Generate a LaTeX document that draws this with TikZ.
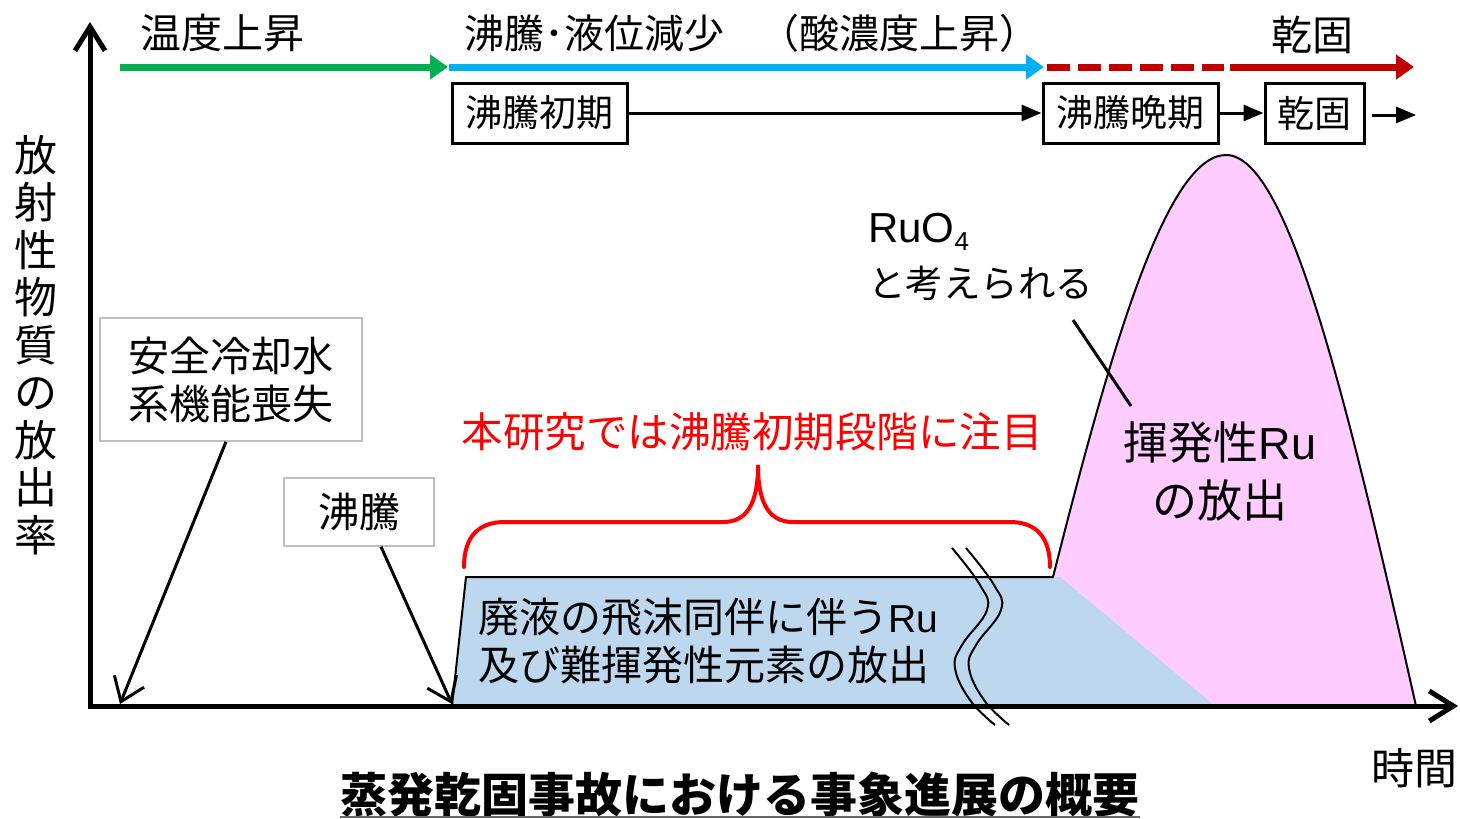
\documentclass[tikz,border=0pt]{standalone}
\usepackage{fontspec}
\setmainfont{Noto Sans CJK JP}
\newfontfamily\latinf{Liberation Sans}
\usetikzlibrary{arrows.meta}
\definecolor{cgreen}{HTML}{00B050}
\definecolor{cblue}{HTML}{00B0F0}
\definecolor{cred}{HTML}{C00000}
\definecolor{cpink}{HTML}{FFCCFF}
\definecolor{cfill}{HTML}{BDD7EE}
\definecolor{cgray}{HTML}{BFBFBF}
\newcommand{\fs}[2]{\fontsize{#1}{#2}\selectfont}
\begin{document}
\begin{tikzpicture}[x=1pt,y=-1pt,
  phase/.style={line width=7pt,-{Triangle[length=18pt,width=24pt]}},
  stagebox/.style={draw,line width=3pt,minimum height=60pt,inner sep=0pt,font=\fs{37}{40}},
  stagearrow/.style={line width=3pt,-{Triangle[length=20pt,width=16pt]}},
  notebox/.style={draw=cgray,line width=1.5pt,inner sep=0pt,align=center,font=\fs{41}{48}},
  lbl/.style={inner sep=0pt,align=center},
  leader/.style={line width=3pt,-{Straight Barb[length=22pt,width=32pt,line width=3pt]}},
  axis/.style={line width=5pt,line join=miter,{Straight Barb[length=24pt,width=30pt,line width=5pt]}-{Straight Barb[length=24pt,width=30pt,line width=5pt]}}
]
\useasboundingbox (0,0) rectangle (1460,819);

% ---- coordinates
\coordinate (origin) at (90,706);
\coordinate (ytip) at (90,22);
\coordinate (xtip) at (1458,706);

% ---- release areas
\fill[cpink] (1053,577) .. controls (1108,360) and (1165,155) .. (1226,155)
  .. controls (1287,155) and (1345,390) .. (1416,706) -- (1053,706) -- cycle;
\fill[cfill] (452,706) -- (466,577) -- (1060,577) -- (1215,706) -- cycle;
\draw[line width=2pt,line join=round] (452,706) -- (466,577) -- (1053,577)
  .. controls (1108,360) and (1165,155) .. (1226,155)
  .. controls (1287,155) and (1345,390) .. (1416,706);

% ---- break marks
\draw[line width=2pt] plot[smooth,tension=0.7] coordinates {(952,548) (980,585) (987,610) (962,645) (955,668) (970,700) (995,725)};
\draw[line width=2pt] plot[smooth,tension=0.7] coordinates {(966,548) (994,585) (1001,610) (976,645) (969,668) (984,700) (1009,725)};

% ---- axes
\draw[axis] (ytip) -- (origin) -- (xtip);

% ---- top phase arrows
\coordinate (g0) at (120,67);
\coordinate (g1) at (448,67);
\coordinate (b0) at (449,67);
\coordinate (b1) at (1044,67);
\coordinate (r0) at (1047,67);
\coordinate (r1) at (1224,67);
\coordinate (r2) at (1230,67);
\coordinate (r3) at (1414,67);
\draw[phase,cgreen] (g0) -- (g1);
\draw[phase,cblue] (b0) -- (b1);
\draw[line width=7pt,cred,dash pattern=on 23pt off 8pt] (r0) -- (r1);
\draw[phase,cred] (r2) -- (r3);

\node[lbl,font=\fs{41}{48}] (tlab1) at (222,33) {温度上昇};
\node[lbl,font=\fs{40}{48}] (tlab2) at (752,33) {沸騰･液位減少\hspace{0.875em}（酸濃度上昇）};
\node[lbl,font=\fs{41}{48}] (tlab3) at (1312,35) {乾固};

% ---- stage boxes
\node[stagebox,minimum width=175pt] (s1) at (539.5,113) {沸騰初期};
\node[stagebox,minimum width=175pt] (s2) at (1130.5,113) {沸騰晩期};
\node[stagebox,minimum width=99pt] (s3) at (1314.5,113) {乾固};
\coordinate (s4) at (1416,115);
\draw[stagearrow] (s1.east) -- (s2.west);
\draw[stagearrow] (s2.east) -- (s3.west);
\draw[stagearrow] ([xshift=6pt]s3.east |- s4) -- (s4);

% ---- y label
\node[lbl,font=\fs{43}{47.5}] (ylab) at (36,345) {放\\射\\性\\物\\質\\の\\放\\出\\率};

% ---- event boxes
\node[notebox,minimum width=262pt,minimum height=123pt] (safe) at (231,379.5) {安全冷却水\\系機能喪失};
\node[notebox,minimum width=150pt,minimum height=68pt] (boil) at (359,512) {沸騰};
\coordinate (t1) at (120,704);
\coordinate (t2) at (452,704);
\draw[leader] ([xshift=-5pt]safe.south) -- (t1);
\draw[leader] ([xshift=22pt]boil.south) -- (t2);

% ---- red brace and label
\draw[line width=4pt,red,line cap=round]
  (464,567) .. controls (464,537) and (478,522) .. (505,522) -- (723,522)
  .. controls (746,522) and (758,505) .. (758,465)
  .. controls (758,505) and (770,522) .. (793,522) -- (1010,522)
  .. controls (1036,522) and (1050,537) .. (1050,567);
\node[lbl,text=red,font=\fs{41.5}{48}] (focus) at (752,432) {本研究では沸騰初期段階に注目};

% ---- area labels
\node[lbl,anchor=west,align=left,font=\fs{41}{48}] (early) at (478,641)
  {廃液の飛沫同伴に伴う{\latinf\fs{39}{48}Ru}\\及び難揮発性元素の放出};
\node[lbl,font=\fs{45}{58}] (vol) at (1220,471) {揮発性{\latinf Ru}\\の放出};
\node[lbl,anchor=west,font=\fs{42}{48}] (ruo) at (868,232) {\latinf RuO\raisebox{-0.35ex}{\fs{26}{26}4}};
\node[lbl,anchor=west,font=\fs{37.5}{44}] (ruo2) at (868,283) {と考えられる};
\coordinate (l1) at (1073,320);
\coordinate (l2) at (1131,406);
\draw[line width=3pt] (l1) -- (l2);

% ---- axis label and title
\node[lbl,font=\fs{43}{48}] (time) at (1414,768) {時間};
\node[lbl,font=\fs{47}{52}\bfseries] (title) at (740,795) {蒸発乾固事故における事象進展の概要};
\coordinate (u1) at (340,817);
\coordinate (u2) at (1140,817);
\draw[line width=2pt,black!60] (u1) -- (u2);
\end{tikzpicture}
\end{document}
